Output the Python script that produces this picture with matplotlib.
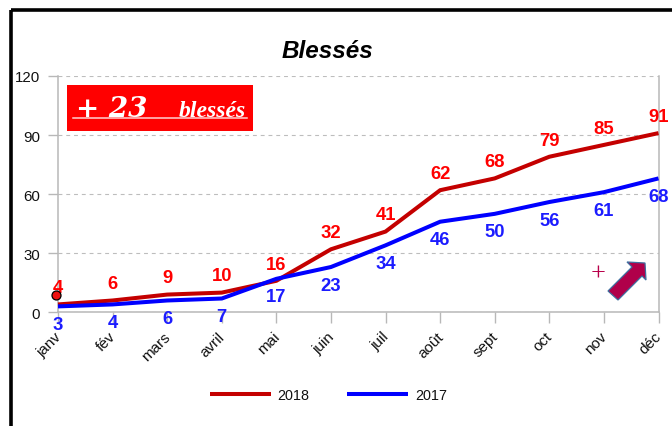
import matplotlib
matplotlib.use("Agg")
import matplotlib.pyplot as plt
from matplotlib.patches import Polygon, Rectangle, Circle
from matplotlib.transforms import Affine2D

months = ["janv", "fév", "mars", "avril", "mai", "juin", "juil", "août", "sept", "oct", "nov", "déc"]
values_2018 = [4, 6, 9, 10, 16, 32, 41, 62, 68, 79, 85, 91]
values_2017 = [3, 4, 6, 7, 17, 23, 34, 46, 50, 56, 61, 68]
y_ticks = [0, 30, 60, 90, 120]
title = "Blessés"
badge_number = "+ 23"
badge_word = "blessés"

W, H = 672, 427
plt.rcParams["font.family"] = ["Liberation Sans", "DejaVu Sans"]
fig = plt.figure(figsize=(W / 100, H / 100), dpi=100, facecolor="white")
px = Affine2D().scale(1, -1).translate(0, H)  # pixel coords, y down

L, R, T, B = 58, 658.5, 77, 313.3
ax = fig.add_axes([L / W, 1 - B / H, (R - L) / W, (B - T) / H])
ax.set_xlim(0, len(months) - 1)
ax.set_ylim(0, 120)
x = list(range(len(months)))

ax.yaxis.grid(True, color="#bdbdbd", ls=(0, (3.5, 3.5)), lw=0.8)
ax.set_axisbelow(True)
for s in ax.spines.values():
    s.set_color("#b8b8b8")
    s.set_linewidth(1.1)
ax.spines["top"].set_visible(False)

l1, = ax.plot(x, values_2018, color="#c40000", lw=2.9, label="2018", solid_joinstyle="miter",
              solid_capstyle="butt", clip_on=False, zorder=3)
l2, = ax.plot(x, values_2017, color="#0000ff", lw=2.9, label="2017", solid_joinstyle="miter",
              solid_capstyle="butt", clip_on=False, zorder=4)

for xi, v in zip(x, values_2018):
    ax.annotate(str(v), (xi, v), xytext=(0, 12), textcoords="offset points", ha="center", va="center",
                color="#ff0000", fontsize=13.3, fontweight="bold", zorder=6, annotation_clip=False)
for xi, v in zip(x, values_2017):
    ax.annotate(str(v), (xi, v), xytext=(0, -13), textcoords="offset points", ha="center", va="center",
                color="#1c1cff", fontsize=13.3, fontweight="bold", zorder=6, annotation_clip=False)

ax.set_yticks(y_ticks)
ax.set_xticks(x)
ax.set_xticklabels(months, rotation=45, ha="right", va="top", rotation_mode="anchor")
ax.tick_params(axis="y", length=7.5, width=1, color="#b8b8b8", labelsize=10.8, pad=5.5, labelcolor="#111111")
ax.tick_params(axis="x", length=8, width=1, color="#b8b8b8", labelsize=11, pad=4, labelcolor="#111111")
for lab in ax.get_xticklabels():
    lab.set_transform(lab.get_transform() + Affine2D().translate(-4, 0))

fig.legend(handles=[l1, l2], loc="center", bbox_to_anchor=(328.5 / W, 1 - 396 / H), ncols=2, frameon=False,
           fontsize=10.4, handlelength=4.2, handletextpad=0.5, columnspacing=2.6, labelcolor="#111111")

fig.text(327 / W, 1 - 51 / H, title, ha="center", va="center", fontsize=17.5, fontweight="bold", fontstyle="italic", color="black")

# outer frame
fig.add_artist(Rectangle((10.7, 10.7), W, H, transform=px, fill=False, ec="black", lw=2.6))

# badge
fig.add_artist(Rectangle((67, 86), 186, 45.5, transform=px, fc="#ff0000", ec="none", zorder=7))
fig.text(76 / W, 1 - 117 / H, badge_number, ha="left", va="baseline", color="white", fontsize=20,
         fontweight="bold", fontstyle="italic", family="DejaVu Serif", zorder=8)
fig.text(178.5 / W, 1 - 117 / H, badge_word, ha="left", va="baseline", color="white", fontsize=17,
         fontweight="bold", fontstyle="italic", family="Liberation Serif", zorder=8)
fig.add_artist(plt.Line2D([73, 247], [119, 119], transform=px, color="#ffd0d0", lw=1.1, zorder=9))

# dot, plus, arrow
fig.add_artist(Circle((56.5, 296.5), 4.5, transform=px, fc="#ee1111", ec="black", lw=0.9, zorder=7))
fig.text(598.5 / W, 1 - 275 / H, "+", ha="center", va="center", color="#b8004a", fontsize=19,
         family="Liberation Serif", zorder=8)
fig.add_artist(Polygon([(645, 264), (646, 281), (642, 277), (618, 301), (608, 292), (632, 268), (627, 263)],
                       closed=True, transform=px, fc="#b0004a", ec="#3f6f9f", lw=0.9, zorder=8))

fig.savefig("out.png", dpi=100, facecolor="white")
